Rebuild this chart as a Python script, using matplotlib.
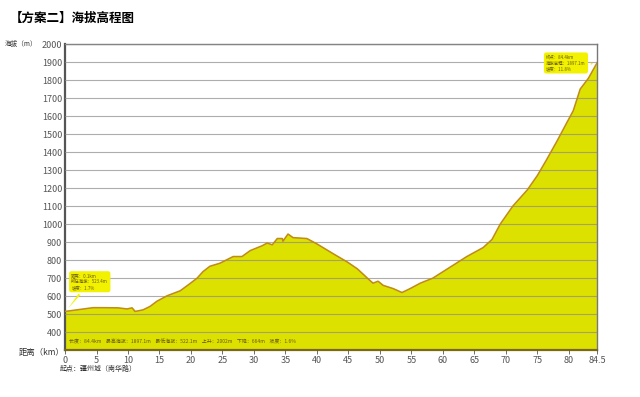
import numpy as np
import matplotlib
matplotlib.use("Agg")
import matplotlib.pyplot as plt

plt.rcParams['font.family'] = ['Noto Sans CJK SC', 'DejaVu Sans']

# elevation profile
dist_km = [0.0, 4.45, 6.03, 8.42, 9.85, 10.64, 11.12, 12.39, 13.5, 14.6, 16.2,
           18.3, 19.85, 20.97, 21.9, 23.0, 24.6, 26.7, 28.1, 29.4, 31.3, 32.1,
           32.9, 33.7, 34.5, 34.6, 35.4, 36.2, 38.4, 40.0, 42.6, 44.8, 46.4,
           48.0, 48.9, 49.7, 50.5, 52.1, 53.5, 54.8, 56.4, 58.4, 63.8, 66.4,
           67.8, 69.1, 71.1, 73.4, 75.0, 76.5, 78.1, 79.7, 80.7, 81.8, 83.1,
           84.5]
elev_m = [515, 536, 536, 535, 529, 535, 515, 524, 543, 572, 602,
          630, 670, 700, 736, 766, 783, 820, 820, 853, 880, 895,
          885, 920, 920, 905, 945, 925, 920, 890, 835, 790, 752,
          700, 672, 683, 660, 642, 620, 642, 672, 700, 820, 870,
          915, 1000, 1100, 1190, 1270, 1360, 1460, 1565, 1630, 1750, 1810,
          1897]

x_ticks = [0, 5, 10, 15, 20, 25, 30, 35, 40, 45, 50, 55, 60, 65, 70, 75, 80, 84.5]
x_labels = ['0', '5', '10', '15', '20', '25', '30', '35', '40', '45', '50',
            '55', '60', '65', '70', '75', '80', '84.5']
y_ticks = list(range(400, 2001, 100))

title = '【方案二】海拔高程图'
start_note = '起点：疆州城（南华路）'
stats_text = ('长度：84.4km    最高海拔：1897.1m    最低海拔：522.1m    '
              '上升：2002m    下降：664m    坡度：1.6%')
left_tip = '距离：0.1km\n所在海拔：523.4m\n坡度：1.7%'
right_tip = '终点：84.4km\n海拔高程：1897.1m\n坡度：11.8%'

fill_col = '#dde100'
line_col = '#c08a1c'
tick_col = '#555555'

fig = plt.figure(figsize=(6.4, 3.97), dpi=100)
ax = fig.add_axes([0.1016, 0.118, 0.8315, 0.771])

ax.fill_between(dist_km, 300, elev_m, color=fill_col, zorder=1)
ax.plot(dist_km, elev_m, color=line_col, lw=1.1, zorder=3)

ax.set_xlim(0, 84.5)
ax.set_ylim(300, 2000)
ax.set_yticks(y_ticks)
ax.set_xticks(x_ticks)
ax.set_xticklabels(x_labels)
ax.grid(axis='y', color='#8a8a8a', lw=0.8, alpha=0.7, zorder=2)
ax.set_axisbelow(False)

for s in ax.spines.values():
    s.set_color('#777777')
    s.set_linewidth(1.0)
ax.spines['left'].set_color('#555555')
ax.spines['left'].set_linewidth(1.6)
ax.spines['bottom'].set_color('#7a6a18')
ax.spines['bottom'].set_linewidth(1.6)

ax.tick_params(axis='y', length=0, labelsize=6.5, colors=tick_col, pad=2)
ax.tick_params(axis='x', length=3, width=0.6, labelsize=6.5, colors=tick_col, pad=1)

fig.text(0.015, 0.955, title, fontsize=9, fontweight='bold', va='center', ha='left')
fig.text(0.008, 0.889, '海拔（m）', fontsize=4.8, va='center', ha='left', color='#333333')
fig.text(0.029, 0.111, '距离（km）', fontsize=6, va='center', ha='left', color='#333333')
fig.text(0.094, 0.07, start_note, fontsize=5, va='center', ha='left', color='#333333')

ax.text(0.6, 345, stats_text, fontsize=3.6, color='#6a5a10', va='center', ha='left')

ax.annotate(left_tip, xy=(0.2, 520), xytext=(1.0, 680), fontsize=3.2,
            color='#6a5a10', va='center', ha='left', zorder=5,
            bbox=dict(boxstyle='round,pad=0.5', fc='#f2f200', ec='none'),
            arrowprops=dict(arrowstyle='wedge,tail_width=0.5', fc='#f2f200', ec='none'))
ax.annotate(right_tip, xy=(84.3, 1890), xytext=(76.4, 1895), fontsize=3.2,
            color='#6a5a10', va='center', ha='left', zorder=5,
            bbox=dict(boxstyle='round,pad=0.5', fc='#f2f200', ec='none'),
            arrowprops=dict(arrowstyle='wedge,tail_width=0.5', fc='#f2f200', ec='none'))

fig.savefig('out.png', dpi=100)
